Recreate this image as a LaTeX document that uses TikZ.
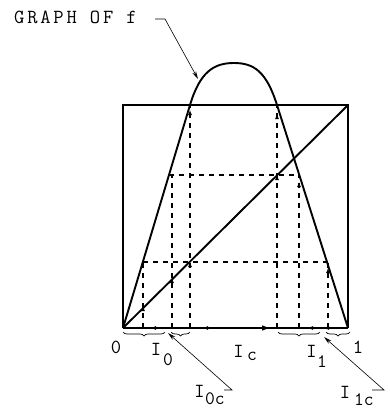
\documentclass[tikz,border=0pt]{standalone}
\usepackage{fontspec}
\newfontfamily\labfont{Latin Modern Mono}
\newfontfamily\gfont[LetterSpace=14]{Latin Modern Mono}
\usetikzlibrary{arrows.meta,decorations.pathreplacing,decorations.markings}
\begin{document}
\begin{tikzpicture}[x=1pt,y=-1pt,
  curvel/.style={line width=1.9pt, line join=round},
  boxl/.style={line width=1.2pt},
  axisl/.style={line width=1.5pt},
  dashl/.style={line width=1.1pt, dash pattern=on 5pt off 5pt},
  lab/.style={font=\labfont\fontsize{20}{20}\selectfont, inner sep=0pt, anchor=base},
  sublab/.style={font=\labfont\fontsize{19}{19}\selectfont, inner sep=0pt, anchor=base west},
  leader/.style={line width=0.6pt,-{Stealth[length=8pt,width=4pt]}},
  brc/.style={decorate, decoration={brace, mirror, amplitude=4pt}, line width=0.7pt},
]
\fill[white] (0,0) rectangle (389,410);
\useasboundingbox (0,0) rectangle (389,410);

% key points
\coordinate (O) at (123,328);
\coordinate (E) at (348,328);
\coordinate (TL) at (123,105);
\coordinate (TR) at (348,105);
\coordinate (A) at (190,105);
\coordinate (B) at (277,105);
\coordinate (P) at (234,63);

% square
\draw[boxl] (O) -- (TL) -- (TR) -- (E);

% dashed cobweb lines
\begin{scope}[dashl]
\draw[postaction={decorate}, decoration={markings,
   mark=at position 22pt with {\arrow{Latex[length=5pt,width=4pt]}}}]
   (143,328) -- (143,262);
\draw[postaction={decorate}, decoration={markings,
   mark=at position 50pt with {\arrow{Latex[length=5pt,width=4pt]}}}]
   (172,328) -- (172,175);
\draw[postaction={decorate}, decoration={markings,
   mark=at position 66pt with {\arrow{Latex[length=5pt,width=4pt]}},
   mark=at position 218pt with {\arrow{Latex[length=5pt,width=4pt]}}}]
   (190,328) -- (A);
\draw[postaction={decorate}, decoration={markings,
   mark=at position 153pt with {\arrow{Latex[length=5pt,width=4pt]}},
   mark=at position 214pt with {\arrow{Latex[length=5pt,width=4pt]}}}]
   (277,328) -- (B);
\draw[postaction={decorate}, decoration={markings,
   mark=at position 146pt with {\arrow{Latex[length=5pt,width=4pt]}}}]
   (299,328) -- (299,175);
\draw[postaction={decorate}, decoration={markings,
   mark=at position 60pt with {\arrow{Latex[length=5pt,width=4pt]}}}]
   (328,328) -- (328,262);
\draw (169,175) -- (299,175);
\draw (143,262) -- (328,262);
\end{scope}

% diagonal
\draw[curvel] (O) -- (TR);

% graph of f
\draw[curvel] (O) -- (A) .. controls (200.1,71.5) and (214,63) .. (P)
   .. controls (254,63) and (266.4,71.6) .. (B) -- (E);

% axis with arrows
\draw[axisl, postaction={decorate}, decoration={markings,
   mark=at position 27pt with {\arrowreversed{Latex[length=6pt,width=4pt]}},
   mark=at position 79pt with {\arrowreversed{Latex[length=6pt,width=4pt]}},
   mark=at position 146pt with {\arrow{Triangle[open,length=7pt,width=5pt]}},
   mark=at position 184pt with {\arrowreversed{Latex[length=6pt,width=4pt]}},
   mark=at position 200pt with {\arrowreversed{Latex[length=6pt,width=4pt]}}}]
   (O) -- (E);

% braces
\draw[brc] (123,332) -- (165,332);
\draw[brc] (171,332) -- (190,332);
\draw[brc] (278,332) -- (320,332);
\draw[brc] (326,332) -- (350,332);

% labels
\node[font=\gfont\fontsize{20}{20}\selectfont, inner sep=0pt, anchor=base west] (g) at (14,23) {GRAPH OF f};
\node[lab] (l0) at (116,353) {0};
\node[lab] (l1) at (358,353) {1};
\node[lab] (i0) at (156,355) {I};
\node[sublab] (i0s) at (163,365) {0};
\node[lab] (ic) at (238.5,357) {I};
\node[sublab] (ics) at (247,360) {c};
\node[lab] (i1) at (311.5,357) {I};
\node[sublab] (i1s) at (317,367) {1};
\node[lab] (i0c) at (199.5,397) {I};
\node[sublab] (i0cs) at (205,404) {0c};
\node[lab] (i1c) at (345,398) {I};
\node[sublab] (i1cs) at (354,405) {1c};

% leaders
\coordinate (gs) at (155,19);
\coordinate (gk) at (165,19);
\coordinate (gt) at (198,79);
\draw[leader] (gs) -- (gk) -- (gt);
\coordinate (a0s) at (224,390);
\coordinate (a0k) at (232,390);
\coordinate (a0t) at (168,333);
\draw[leader] (a0s) -- (a0k) -- (a0t);
\coordinate (a1s) at (372,390);
\coordinate (a1k) at (384,390);
\coordinate (a1t) at (324,337);
\draw[leader] (a1s) -- (a1k) -- (a1t);
\end{tikzpicture}
\end{document}
